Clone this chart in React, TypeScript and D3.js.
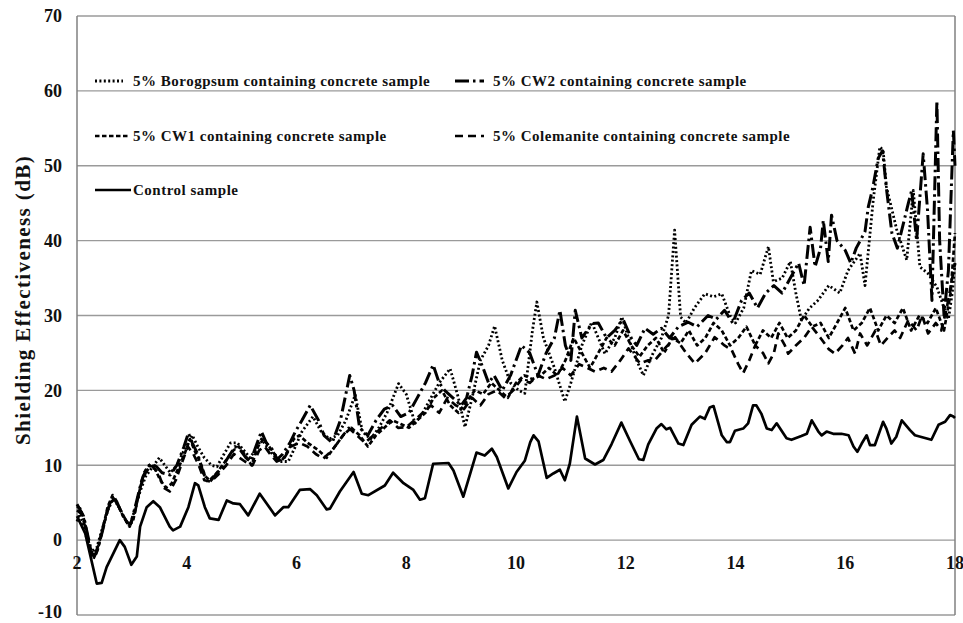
import React from "react";
import * as d3 from "d3";

type P = [number, number];

const xTicks = [2, 4, 6, 8, 10, 12, 14, 16, 18];
const yTicks = [-10, 0, 10, 20, 30, 40, 50, 60, 70];

const controlSample: P[] = [
  [2.0,3.2],[2.15,0.9],[2.36,-5.8],[2.45,-5.7],[2.54,-3.6],[2.78,0],[2.87,-0.9],[2.99,-3.3],[3.09,-2.2],[3.15,1.8],[3.27,4.4],[3.39,5.2],[3.51,4.4],[3.69,1.8],[3.75,1.3],[3.88,1.8],[4.03,4.4],[4.15,7.6],[4.21,7.3],[4.33,4.4],[4.42,2.9],[4.58,2.7],[4.73,5.3],[4.85,4.9],[4.97,4.8],[5.12,3.3],[5.33,6.2],[5.61,3.3],[5.76,4.4],[5.85,4.4],[6.06,6.7],[6.25,6.8],[6.37,6.0],[6.55,4.1],[6.61,4.2],[6.79,6.5],[7.04,9.1],[7.19,6.2],[7.31,6.0],[7.61,7.3],[7.76,9.0],[7.95,7.6],[8.13,6.7],[8.25,5.4],[8.34,5.6],[8.49,10.2],[8.77,10.3],[8.86,9.3],[9.04,5.8],[9.28,11.7],[9.43,11.3],[9.56,12.2],[9.65,11.1],[9.86,6.9],[10.01,9.1],[10.16,10.6],[10.26,13.1],[10.32,14.0],[10.41,13.2],[10.56,8.3],[10.68,8.9],[10.8,9.4],[10.89,8.0],[10.98,10.2],[11.11,16.5],[11.26,10.9],[11.44,10.1],[11.59,10.7],[11.74,12.8],[11.92,15.7],[12.08,13.2],[12.24,10.8],[12.32,10.7],[12.41,12.8],[12.56,14.9],[12.65,15.5],[12.74,14.8],[12.81,15.0],[12.96,12.9],[13.05,12.7],[13.2,15.4],[13.35,16.5],[13.44,16.2],[13.53,17.7],[13.6,17.9],[13.75,14.0],[13.84,13.1],[13.9,13.1],[13.99,14.6],[14.14,14.9],[14.23,15.6],[14.32,18.0],[14.38,18.0],[14.47,16.9],[14.57,14.9],[14.66,14.7],[14.75,15.6],[14.93,13.6],[15.02,13.4],[15.2,13.9],[15.3,14.2],[15.39,16.0],[15.51,14.5],[15.57,14.0],[15.66,14.5],[15.78,14.2],[15.93,14.2],[16.06,14.0],[16.15,12.5],[16.22,11.8],[16.3,12.9],[16.39,14.0],[16.45,12.7],[16.54,12.7],[16.69,15.8],[16.75,14.9],[16.84,12.9],[16.93,13.8],[17.03,16.0],[17.18,14.7],[17.27,14.0],[17.57,13.4],[17.7,15.4],[17.82,15.8],[17.91,16.7],[17.97,16.5],[18.0,16.3]
];

const borogpsum: P[] = [
  [2.0,2.5],[2.05,3.5],[2.12,2.0],[2.2,-0.5],[2.28,-1.5],[2.36,-1.0],[2.46,1.5],[2.56,4.0],[2.66,5.5],[2.76,4.5],[2.86,3.0],[2.96,1.8],[3.05,4.0],[3.15,6.5],[3.25,8.5],[3.38,9.8],[3.5,11.0],[3.6,10.0],[3.7,9.0],[3.82,10.0],[3.95,12.0],[4.1,14.0],[4.2,12.5],[4.32,11.0],[4.45,10.0],[4.55,9.8],[4.68,11.5],[4.8,13.0],[4.92,13.0],[5.04,12.0],[5.15,11.0],[5.25,12.0],[5.36,13.5],[5.46,12.5],[5.56,11.5],[5.7,10.5],[5.85,10.5],[5.98,12.5],[6.1,14.5],[6.3,16.5],[6.45,14.5],[6.6,13.5],[6.75,14],[6.9,16],[7.07,19.4],[7.2,14.5],[7.35,13.5],[7.5,15],[7.65,17],[7.86,20.9],[8.0,19.5],[8.16,15.6],[8.3,17],[8.45,19],[8.6,21],[8.8,22.9],[8.95,19],[9.07,15.1],[9.2,19],[9.35,24],[9.5,26],[9.61,28.6],[9.75,24],[9.9,21],[10.05,20],[10.16,19.6],[10.3,28],[10.38,31.8],[10.5,27],[10.7,23],[10.89,18.5],[11.0,21],[11.2,26],[11.38,29.1],[11.5,27],[11.62,24.9],[11.8,27],[11.93,29.8],[12.05,27],[12.2,24],[12.32,22.0],[12.5,25],[12.65,27],[12.78,30],[12.89,41.4],[13.0,29.8],[13.1,29],[13.25,31],[13.44,32.9],[13.6,32.5],[13.75,32.9],[13.9,30],[14.0,29],[14.15,31],[14.29,36.0],[14.45,35.5],[14.6,39.2],[14.69,34.5],[14.85,35],[15.0,37.2],[15.1,33],[15.2,29.4],[15.35,31],[15.5,32],[15.7,34],[15.9,33],[16.05,36],[16.27,38.3],[16.36,34],[16.51,45.4],[16.63,52.5],[16.69,52.1],[16.75,47.2],[16.94,41.4],[17.12,37.4],[17.24,46.7],[17.36,36.5],[17.51,35.6],[17.67,33.8],[17.8,31],[17.88,29.5],[17.95,33],[18.0,37]
];

const cw2: P[] = [
  [2.0,4.8],[2.06,4.0],[2.12,3.2],[2.2,0.5],[2.28,-2.0],[2.35,-1.8],[2.45,0.8],[2.55,3.8],[2.65,6.0],[2.72,5.2],[2.82,3.5],[2.92,2.3],[2.98,2.2],[3.08,5.0],[3.18,8.0],[3.28,9.8],[3.36,10.2],[3.45,9.8],[3.55,9.0],[3.7,8.7],[3.82,10.0],[3.95,12.5],[4.03,14.3],[4.1,13.0],[4.2,11.5],[4.3,9.0],[4.4,7.6],[4.5,8.5],[4.62,9.5],[4.75,11.0],[4.88,12.5],[4.98,12.0],[5.08,11.0],[5.16,10.5],[5.26,12.5],[5.36,14.5],[5.45,13.0],[5.55,12.2],[5.65,10.8],[5.75,11.5],[5.88,13.0],[5.98,14.5],[6.1,16.0],[6.25,18.0],[6.4,16],[6.5,14],[6.65,13],[6.8,16],[6.97,22],[7.05,20],[7.15,15],[7.3,14],[7.45,16],[7.6,17.5],[7.75,18],[7.9,16.5],[8.05,17],[8.2,19],[8.35,21],[8.49,23.4],[8.6,21],[8.7,20],[8.85,19],[9.0,18],[9.1,19],[9.2,22],[9.28,25.1],[9.4,23],[9.5,21],[9.6,22],[9.75,20],[9.9,22],[10.0,24],[10.1,26],[10.25,25],[10.4,22],[10.55,25],[10.7,27],[10.8,30.7],[10.9,26],[11.0,24],[11.08,30.7],[11.2,27],[11.38,28.9],[11.5,29],[11.65,27],[11.8,28],[11.95,29.5],[12.1,27],[12.2,26],[12.35,28.3],[12.5,27.5],[12.65,28.3],[12.8,27],[12.96,28.5],[13.14,29.1],[13.3,28.5],[13.5,30.0],[13.65,29.5],[13.8,30.7],[13.95,29],[14.11,32.0],[14.25,33],[14.4,31],[14.55,33],[14.7,34],[14.85,33],[15.0,35],[15.15,37],[15.25,34],[15.36,41.8],[15.45,36.5],[15.55,39],[15.6,42.7],[15.69,37.2],[15.75,43.4],[15.85,40],[16.0,38.7],[16.1,37],[16.2,39],[16.36,41.2],[16.42,44.5],[16.5,47],[16.6,51],[16.68,52],[16.75,47],[16.85,41],[16.95,39],[17.05,42],[17.15,45],[17.21,46.7],[17.3,40],[17.42,51.6],[17.5,44],[17.58,32],[17.67,58.7],[17.72,40],[17.8,30],[17.88,36],[17.97,54.7],[18.0,50]
];

const cw1: P[] = [
  [2.0,4.5],[2.06,4.2],[2.14,2.5],[2.22,-0.5],[2.3,-2.5],[2.38,-1.2],[2.47,1.5],[2.56,4.5],[2.64,5.8],[2.74,4.8],[2.84,3.2],[2.94,2.0],[3.02,2.5],[3.12,6.0],[3.22,9.0],[3.32,10.0],[3.42,9.5],[3.52,8.0],[3.62,7.0],[3.72,7.5],[3.84,9.5],[3.96,11.5],[4.06,13.5],[4.14,12.0],[4.24,10.5],[4.34,8.5],[4.42,8.0],[4.55,9.0],[4.7,10.5],[4.85,12.0],[4.95,12.5],[5.05,11.5],[5.18,10.0],[5.3,12.5],[5.4,13.5],[5.5,12.5],[5.6,11.5],[5.72,10.5],[5.85,12.0],[5.95,13.5],[6.05,14],[6.2,13],[6.4,12],[6.55,11],[6.7,12.5],[6.85,14],[7.0,15],[7.15,14],[7.3,12.5],[7.45,14],[7.6,15],[7.75,16],[7.9,15.5],[8.05,15],[8.2,16],[8.35,17],[8.5,19],[8.65,20],[8.8,18],[8.95,17],[9.1,18.5],[9.25,20],[9.4,19.5],[9.55,21],[9.7,20],[9.85,19],[10.0,21],[10.15,22],[10.3,21.5],[10.45,22],[10.6,23],[10.75,22],[10.9,24],[11.05,27],[11.2,25],[11.35,23],[11.5,25],[11.65,27],[11.8,26],[11.95,28],[12.1,26],[12.25,24.5],[12.4,26],[12.55,27],[12.7,25],[12.85,27],[13.0,26.3],[13.15,28],[13.3,26],[13.45,27],[13.6,29],[13.75,28],[13.9,26],[14.05,27],[14.2,28.5],[14.36,26],[14.5,28],[14.65,27],[14.8,29],[14.95,27],[15.1,28],[15.25,30],[15.4,28.5],[15.55,29],[15.7,27],[15.85,29],[16.0,31],[16.15,28],[16.3,29],[16.45,31],[16.6,28],[16.75,30],[16.9,29],[17.05,31],[17.2,28],[17.35,30],[17.5,29],[17.65,31],[17.8,28],[17.92,33],[18.0,41]
];

const colemanite: P[] = [
  [2.0,4.0],[2.08,3.5],[2.16,1.5],[2.25,-1.5],[2.32,-2.0],[2.4,-0.5],[2.5,2.5],[2.6,5.0],[2.68,5.5],[2.78,4.2],[2.88,2.8],[2.96,1.8],[3.05,3.5],[3.15,7.0],[3.25,9.0],[3.35,10.0],[3.48,9.0],[3.58,7.0],[3.69,6.5],[3.8,8.0],[3.92,10.5],[4.02,12.5],[4.12,11.5],[4.22,10.0],[4.32,8.0],[4.44,7.8],[4.58,8.8],[4.72,10.0],[4.86,11.5],[4.96,11.0],[5.06,10.5],[5.2,10.0],[5.32,12.0],[5.42,12.5],[5.52,11.5],[5.64,10.5],[5.78,11.0],[5.9,12.5],[6.05,13],[6.2,12.5],[6.35,11.5],[6.49,10.9],[6.65,12],[6.8,13.5],[6.95,15],[7.1,14],[7.25,13],[7.4,14],[7.55,15],[7.7,16],[7.85,15],[8.0,15.1],[8.15,16],[8.3,17],[8.45,18],[8.6,17],[8.75,19],[8.9,18],[9.05,17.5],[9.2,19],[9.35,18],[9.5,19.5],[9.65,20],[9.8,19],[9.95,20],[10.1,21.5],[10.25,21],[10.4,22],[10.55,21.5],[10.7,22],[10.85,23],[11.0,22],[11.15,23.5],[11.3,23],[11.44,22.5],[11.6,23],[11.74,22.5],[11.9,24],[12.05,25.6],[12.26,23.6],[12.4,24],[12.53,24.0],[12.7,25.5],[12.9,27.1],[13.1,25],[13.26,23.6],[13.45,25],[13.62,27.1],[13.8,26],[13.93,25.4],[14.05,23.5],[14.14,22.3],[14.25,24],[14.36,26.0],[14.5,25],[14.6,23.6],[14.7,25],[14.78,27.6],[14.9,26],[14.96,24.9],[15.1,26],[15.25,27],[15.39,28.5],[15.55,27],[15.7,25.5],[15.81,24.9],[15.95,26],[16.05,27],[16.18,24.9],[16.27,27.6],[16.4,26],[16.55,28],[16.65,26],[16.78,27.1],[16.9,28],[17.0,27],[17.15,29.4],[17.3,28],[17.4,30],[17.51,27.6],[17.65,29],[17.75,28],[17.85,31],[17.95,35],[18.0,37]
];

const seriesNames = [
  "5% Borogpsum containing concrete sample",
  "5% CW2 containing concrete sample",
  "5% CW1 containing concrete sample",
  "5% Colemanite containing concrete sample",
  "Control sample",
];

const FONT = "'Liberation Serif', 'Times New Roman', serif";

export default function App() {
  const left = 77, right = 955, top = 16, bottom = 615;
  const x = d3.scaleLinear().domain([2, 18]).range([left, right]);
  const y = d3.scaleLinear().domain([-10, 70]).range([bottom, top]);
  const line = d3.line<P>().x((d) => x(d[0])).y((d) => y(d[1]));

  const styles = [
    { data: borogpsum, dash: "2 2.4", w: 2.8 },
    { data: cw2, dash: "14 4 2.5 4", w: 3 },
    { data: cw1, dash: "4.5 2.5", w: 2.7 },
    { data: colemanite, dash: "8 5", w: 2.7 },
    { data: controlSample, dash: "none", w: 2.7 },
  ];

  const legend = [
    { lx: 95, lx2: 123, tx: 133, ty: 86, i: 0 },
    { lx: 455, lx2: 484, tx: 493, ty: 86, i: 1 },
    { lx: 95, lx2: 128, tx: 133, ty: 141, i: 2 },
    { lx: 455, lx2: 484, tx: 493, ty: 141, i: 3 },
    { lx: 95, lx2: 131, tx: 133, ty: 195, i: 4 },
  ];

  return (
    <svg width={963} height={623} style={{ position: "absolute", left: 0, top: 0, background: "#fff" }}>
      <rect x={0} y={0} width={963} height={623} fill="#fff" />
      {yTicks.map((t) => (
        <line key={"g" + t} x1={left} x2={right} y1={y(t)} y2={y(t)} stroke="#9a9a9a" strokeWidth={1.4} />
      ))}
      <line x1={left} x2={left} y1={top} y2={bottom} stroke="#808080" strokeWidth={1.5} />
      <line x1={right} x2={right} y1={top} y2={bottom} stroke="#808080" strokeWidth={1.5} />
      {yTicks.map((t) => (
        <text key={"yt" + t} x={62} y={t === -10 ? y(t) - 3 : y(t)} dy="0.35em" textAnchor="end" fontFamily={FONT} fontWeight="bold" fontSize={18} fill="#111">{t}</text>
      ))}
      {xTicks.map((t) => (
        <text key={"xt" + t} x={x(t)} y={y(0) + 23} dy="0.35em" textAnchor="middle" fontFamily={FONT} fontWeight="bold" fontSize={18} fill="#111">{t}</text>
      ))}
      <text transform={`translate(23, 300) rotate(-90)`} textAnchor="middle" dy="0.35em" fontFamily={FONT} fontWeight="bold" fontSize={21} letterSpacing={1.4} fill="#111">Shielding Effectiveness (dB)</text>
      {styles.map((s, i) => (
        <path key={"s" + i} d={line(s.data) || ""} fill="none" stroke="#000" strokeWidth={s.w} strokeDasharray={s.dash} strokeLinejoin="round" />
      ))}
      {legend.map((l) => (
        <g key={"l" + l.i}>
          <line x1={l.lx} x2={l.lx2} y1={l.ty - 5} y2={l.ty - 5} stroke="#000" strokeWidth={styles[l.i].w} strokeDasharray={styles[l.i].dash} />
          <text x={l.tx} y={l.ty} fontFamily={FONT} fontWeight="bold" fontSize={15} letterSpacing={0.5} fill="#111">{seriesNames[l.i]}</text>
        </g>
      ))}
    </svg>
  );
}
